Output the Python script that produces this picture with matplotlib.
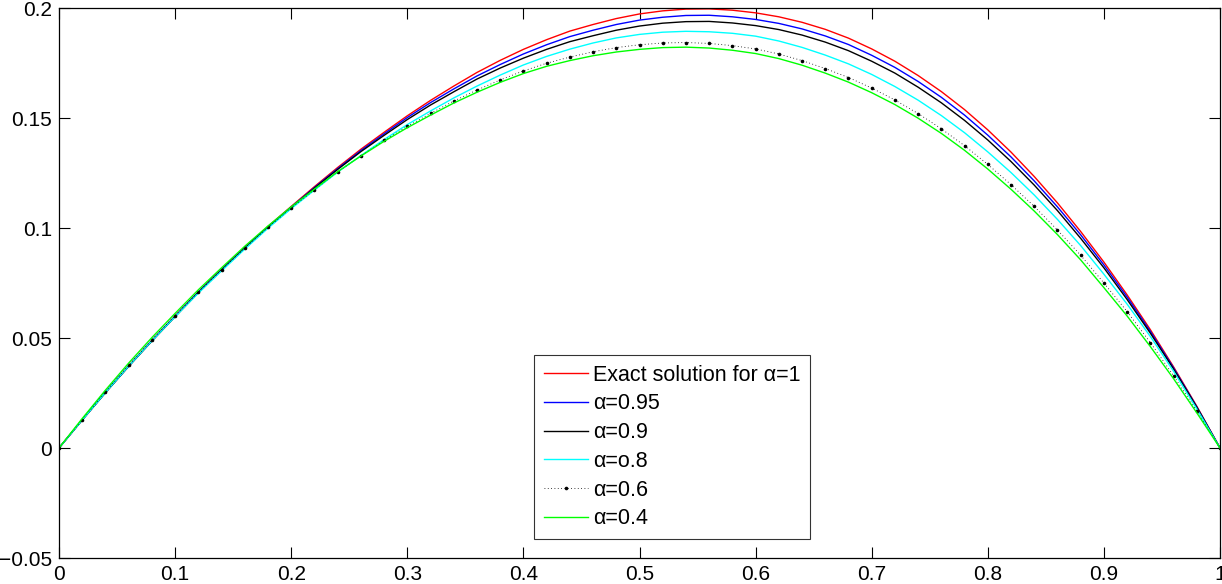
import matplotlib
matplotlib.use("Agg")
import matplotlib.pyplot as plt

# ---- data ----
x = [0.00, 0.02, 0.04, 0.06, 0.08, 0.10, 0.12, 0.14, 0.16, 0.18, 0.20,
     0.22, 0.24, 0.26, 0.28, 0.30, 0.32, 0.34, 0.36, 0.38, 0.40,
     0.42, 0.44, 0.46, 0.48, 0.50, 0.52, 0.54, 0.56, 0.58, 0.60,
     0.62, 0.64, 0.66, 0.68, 0.70, 0.72, 0.74, 0.76, 0.78, 0.80,
     0.82, 0.84, 0.86, 0.88, 0.90, 0.92, 0.94, 0.96, 0.98, 1.00]

u_exact = [0, 0.0128, 0.0253, 0.0373, 0.0489, 0.0600, 0.0709, 0.0812, 0.0911, 0.1007, 0.1098,
           0.1188, 0.1275, 0.1358, 0.1435, 0.1510, 0.1580, 0.1645, 0.1707, 0.1762, 0.1812,
           0.1856, 0.1895, 0.1925, 0.1952, 0.1973, 0.1987, 0.1995, 0.1996, 0.1990, 0.1978,
           0.1960, 0.1935, 0.1903, 0.1863, 0.1814, 0.1758, 0.1693, 0.1620, 0.1538, 0.1446,
           0.1345, 0.1234, 0.1114, 0.0984, 0.0845, 0.0696, 0.0538, 0.0369, 0.0190, 0]
u_095 = [0, 0.0128, 0.0253, 0.0372, 0.0488, 0.0599, 0.0708, 0.0810, 0.0909, 0.1004, 0.1095,
         0.1184, 0.1270, 0.1352, 0.1428, 0.1502, 0.1570, 0.1632, 0.1691, 0.1743, 0.1791,
         0.1833, 0.1870, 0.1899, 0.1925, 0.1945, 0.1958, 0.1966, 0.1967, 0.1960, 0.1948,
         0.1930, 0.1905, 0.1873, 0.1834, 0.1785, 0.1730, 0.1666, 0.1594, 0.1513, 0.1422,
         0.1323, 0.1214, 0.1096, 0.0969, 0.0832, 0.0686, 0.0530, 0.0364, 0.0187, 0]
u_09 = [0, 0.0127, 0.0251, 0.0371, 0.0486, 0.0597, 0.0706, 0.0808, 0.0907, 0.1002, 0.1092,
        0.1181, 0.1266, 0.1347, 0.1421, 0.1493, 0.1559, 0.1619, 0.1677, 0.1727, 0.1772,
        0.1812, 0.1847, 0.1874, 0.1899, 0.1918, 0.1931, 0.1938, 0.1939, 0.1932, 0.1920,
        0.1902, 0.1877, 0.1845, 0.1806, 0.1758, 0.1704, 0.1640, 0.1569, 0.1489, 0.1400,
        0.1302, 0.1195, 0.1079, 0.0953, 0.0819, 0.0675, 0.0522, 0.0359, 0.0185, 0]
u_08 = [0, 0.0127, 0.0252, 0.0372, 0.0487, 0.0597, 0.0704, 0.0805, 0.0904, 0.0999, 0.1088,
        0.1172, 0.1254, 0.1329, 0.1402, 0.1470, 0.1532, 0.1591, 0.1645, 0.1695, 0.1741,
        0.1780, 0.1813, 0.1841, 0.1864, 0.1880, 0.1890, 0.1894, 0.1892, 0.1885, 0.1872,
        0.1850, 0.1821, 0.1786, 0.1746, 0.1698, 0.1643, 0.1581, 0.1511, 0.1433, 0.1346,
        0.1252, 0.1150, 0.1039, 0.0920, 0.0790, 0.0654, 0.0507, 0.0349, 0.0178, 0]
u_06 = [0, 0.0129, 0.0255, 0.0376, 0.0492, 0.0602, 0.0709, 0.0810, 0.0909, 0.1003, 0.1091,
        0.1174, 0.1255, 0.1328, 0.1398, 0.1462, 0.1521, 0.1577, 0.1627, 0.1673, 0.1714,
        0.1749, 0.1777, 0.1801, 0.1820, 0.1833, 0.1841, 0.1843, 0.1839, 0.1829, 0.1814,
        0.1791, 0.1761, 0.1725, 0.1684, 0.1636, 0.1582, 0.1520, 0.1451, 0.1374, 0.1289,
        0.1197, 0.1098, 0.0991, 0.0876, 0.0750, 0.0620, 0.0479, 0.0329, 0.0168, 0]
u_04 = [0, 0.0134, 0.0263, 0.0386, 0.0502, 0.0612, 0.0719, 0.0819, 0.0917, 0.1009, 0.1096,
        0.1177, 0.1256, 0.1327, 0.1394, 0.1456, 0.1513, 0.1568, 0.1617, 0.1662, 0.1702,
        0.1735, 0.1761, 0.1783, 0.1800, 0.1812, 0.1820, 0.1822, 0.1818, 0.1808, 0.1793,
        0.1770, 0.1740, 0.1704, 0.1663, 0.1615, 0.1561, 0.1499, 0.1430, 0.1353, 0.1268,
        0.1176, 0.1077, 0.0970, 0.0855, 0.0729, 0.0600, 0.0461, 0.0315, 0.0160, 0]

labels = ["Exact solution for \u03b1=1", "\u03b1=0.95", "\u03b1=0.9",
          "\u03b1=o.8", "\u03b1=0.6", "\u03b1=0.4"]

xticks = [0, 0.1, 0.2, 0.3, 0.4, 0.5, 0.6, 0.7, 0.8, 0.9, 1]
xticklabels = ["0", "0.1", "0.2", "0.3", "0.4", "0.5", "0.6", "0.7", "0.8", "0.9", "1"]
yticks = [-0.05, 0, 0.05, 0.1, 0.15, 0.2]
yticklabels = ["\u22120.05", "0", "0.05", "0.1", "0.15", "0.2"]

# ---- figure ----
plt.rcParams['font.family'] = ['Liberation Sans', 'DejaVu Sans']
fig = plt.figure(figsize=(12.22, 5.84), dpi=100)
W, H = 1222, 584
ax = fig.add_axes([59 / W, 1 - 558 / H, (1220 - 59) / W, (558 - 8) / H])

lw = 1.0
ax.plot(x, u_exact, color=(1, 0, 0), lw=lw, label=labels[0])
ax.plot(x, u_095, color=(0, 0, 1), lw=lw, label=labels[1])
ax.plot(x, u_09, color=(0, 0, 0), lw=lw, label=labels[2])
ax.plot(x, u_08, color=(0, 1, 1), lw=lw, label=labels[3])
ax.plot(x, u_06, color=(0, 0, 0), lw=0.6, linestyle=(0, (1, 3)),
        marker='o', markersize=2.6, markeredgewidth=0, label=labels[4])
ax.plot(x, u_04, color=(0, 1, 0), lw=lw, label=labels[5])

ax.set_xlim(0, 1)
ax.set_ylim(-0.05, 0.2)
ax.set_xticks(xticks)
ax.set_xticklabels(xticklabels)
ax.set_yticks(yticks)
ax.set_yticklabels(yticklabels)
ax.tick_params(direction='in', length=8, width=0.8, top=True, right=True,
               labelsize=15, pad=5)
for s in ax.spines.values():
    s.set_linewidth(0.9)

leg = ax.legend(loc='upper left', bbox_to_anchor=((534 - 59) / 1161, (558 - 355) / 550),
                borderaxespad=0, fontsize=15.5, frameon=True, fancybox=False,
                edgecolor='black', handlelength=2.05, handletextpad=0.25,
                labelspacing=0.36, borderpad=0.45, numpoints=1)
leg.get_frame().set_linewidth(0.8)

fig.savefig("out.png", dpi=100)
